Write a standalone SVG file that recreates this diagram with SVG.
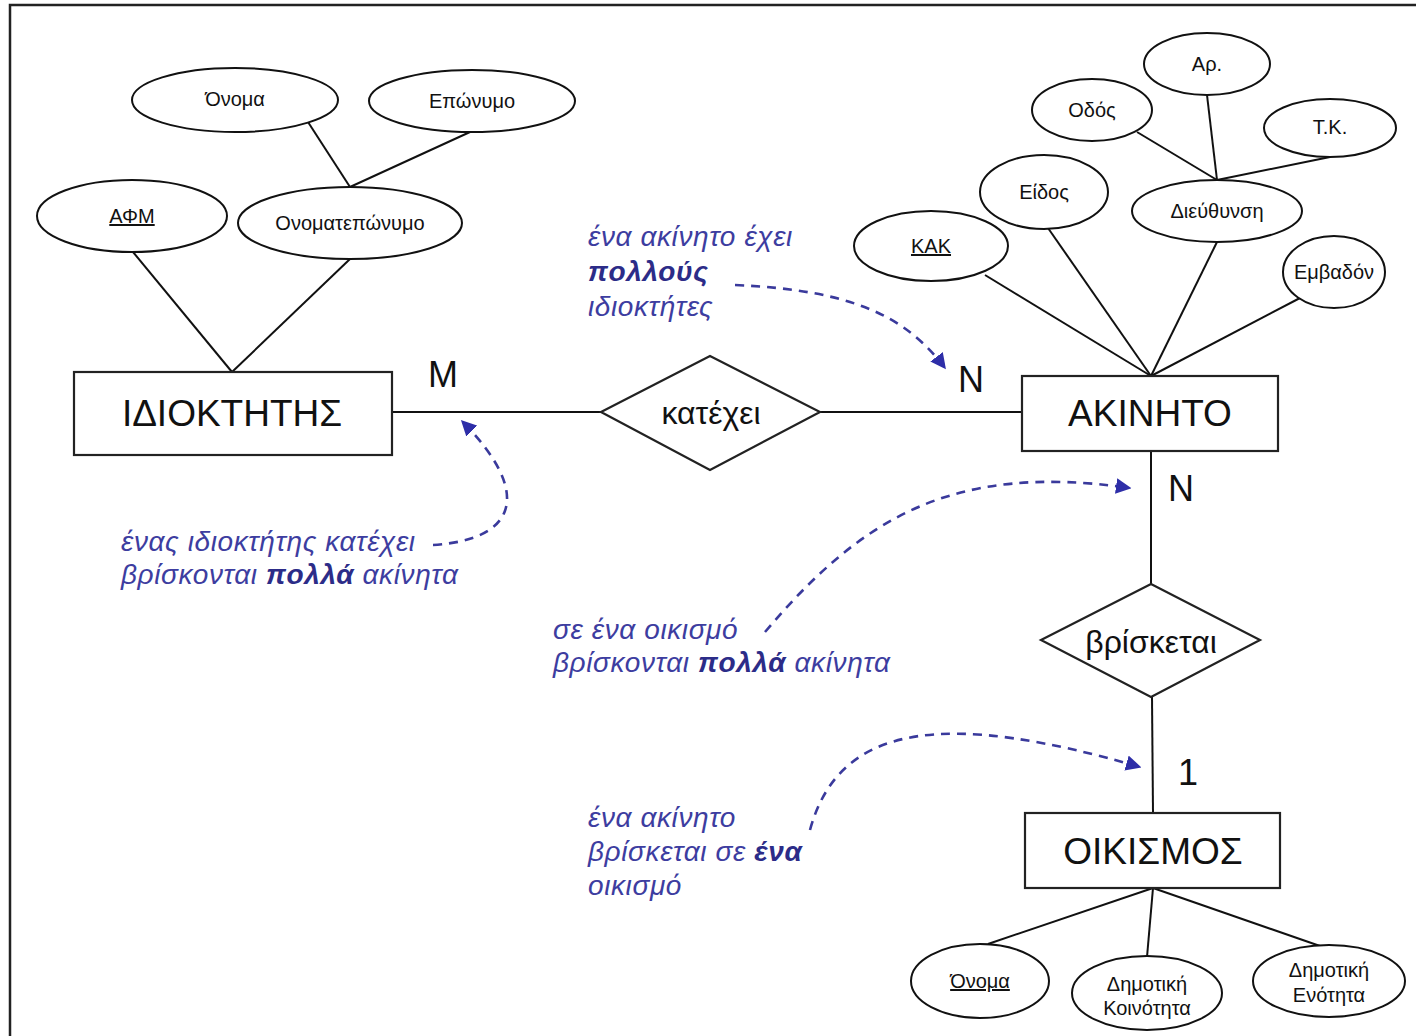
<svg xmlns="http://www.w3.org/2000/svg" width="1416" height="1036" viewBox="0 0 1416 1036">
<style>
.ent{fill:#fff;stroke:#222;stroke-width:2.2}
.attr{fill:#fff;stroke:#111;stroke-width:2}
.ln{stroke:#111;stroke-width:2;fill:none}
.et{font-family:"Liberation Sans",Arial,sans-serif;font-size:37px;fill:#111;text-anchor:middle}
.rt{font-family:"Liberation Sans",Arial,sans-serif;font-size:32px;fill:#111;text-anchor:middle}
.at{font-family:"Liberation Sans",Arial,sans-serif;font-size:20px;fill:#111;text-anchor:middle}
.u{text-decoration:underline}
.card{font-family:"Liberation Sans",Arial,sans-serif;font-size:36px;fill:#111}
.note{font-family:"Liberation Sans",Arial,sans-serif;font-size:28px;letter-spacing:0.6px;font-style:italic;fill:#3d3da0}
.b{font-weight:bold;fill:#2c2c88}
.dash{stroke:#3a3a9c;stroke-width:2.6;fill:none;stroke-dasharray:9 7}
</style>
<defs>
<marker id="ah" viewBox="0 0 10 10" refX="9" refY="5" markerWidth="6" markerHeight="6" markerUnits="strokeWidth" orient="auto">
<path d="M0,0 L10,5 L0,10 Z" fill="#2e2ea8"/>
</marker>
</defs>
<rect x="0" y="0" width="1416" height="1036" fill="#fff"/>
<path d="M10,1036 L10,5 L1416,5" fill="none" stroke="#222" stroke-width="2.5"/>

<g id="connectors">
<line class="ln" x1="392" y1="412" x2="601" y2="412"/>
<line class="ln" x1="820" y1="412" x2="1022" y2="412"/>
<line class="ln" x1="1151" y1="451" x2="1151" y2="584"/>
<line class="ln" x1="1152" y1="697" x2="1153" y2="813"/>
<line class="ln" x1="308" y1="122" x2="350" y2="187"/>
<line class="ln" x1="470" y1="132" x2="350" y2="187"/>
<line class="ln" x1="133" y1="252" x2="232" y2="372"/>
<line class="ln" x1="350" y1="259" x2="232" y2="372"/>
<line class="ln" x1="1137" y1="132" x2="1217" y2="180"/>
<line class="ln" x1="1207" y1="95" x2="1217" y2="180"/>
<line class="ln" x1="1330" y1="157" x2="1217" y2="180"/>
<line class="ln" x1="985" y1="275" x2="1151" y2="376"/>
<line class="ln" x1="1048" y1="228" x2="1151" y2="376"/>
<line class="ln" x1="1217" y1="242" x2="1151" y2="376"/>
<line class="ln" x1="1300" y1="298" x2="1151" y2="376"/>
<line class="ln" x1="1153" y1="888" x2="988" y2="944"/>
<line class="ln" x1="1153" y1="888" x2="1147" y2="957"/>
<line class="ln" x1="1153" y1="888" x2="1320" y2="946"/>
<path class="dash" d="M735,285 C850,290 905,315 945,368" marker-end="url(#ah)"/>
<path class="dash" d="M433,545 C515,540 535,495 462,421" marker-end="url(#ah)"/>
<path class="dash" d="M765,632 C860,520 950,462 1130,488" marker-end="url(#ah)"/>
<path class="dash" d="M810,830 C840,720 950,712 1140,767" marker-end="url(#ah)"/>
</g>

<g id="idioktitis"><rect class="ent" x="74" y="372" width="318" height="83"/><text class="et" x="232" y="426">ΙΔΙΟΚΤΗΤΗΣ</text></g>
<g id="akinito"><rect class="ent" x="1022" y="376" width="256" height="75"/><text class="et" x="1150" y="426">ΑΚΙΝΗΤΟ</text></g>
<g id="oikismos"><rect class="ent" x="1025" y="813" width="255" height="75"/><text class="et" x="1153" y="864">ΟΙΚΙΣΜΟΣ</text></g>

<g id="katexei"><polygon class="ent" points="601,412 710,356 820,412 710,470"/><text class="rt" x="711" y="424">κατέχει</text></g>
<g id="vrisketai"><polygon class="ent" points="1041,640 1151,584 1260,640 1151,697"/><text class="rt" x="1151" y="653">βρίσκεται</text></g>

<g id="onoma1"><ellipse class="attr" cx="235" cy="100" rx="103" ry="32"/><text class="at" x="235" y="106">Όνομα</text></g>
<g id="eponymo"><ellipse class="attr" cx="472" cy="101" rx="103" ry="31"/><text class="at" x="472" y="108">Επώνυμο</text></g>
<g id="afm"><ellipse class="attr" cx="132" cy="216" rx="95" ry="36"/><text class="at u" x="132" y="223">ΑΦΜ</text></g>
<g id="onomateponymo"><ellipse class="attr" cx="350" cy="223" rx="112" ry="36"/><text class="at" x="350" y="230">Ονοματεπώνυμο</text></g>

<g id="ar"><ellipse class="attr" cx="1207" cy="64" rx="63" ry="31"/><text class="at" x="1207" y="71">Αρ.</text></g>
<g id="odos"><ellipse class="attr" cx="1092" cy="110" rx="60" ry="31"/><text class="at" x="1092" y="117">Οδός</text></g>
<g id="tk"><ellipse class="attr" cx="1330" cy="128" rx="66" ry="29"/><text class="at" x="1330" y="134">Τ.Κ.</text></g>
<g id="eidos"><ellipse class="attr" cx="1044" cy="192" rx="64" ry="37"/><text class="at" x="1044" y="199">Είδος</text></g>
<g id="dieythynsi"><ellipse class="attr" cx="1217" cy="211" rx="85" ry="31"/><text class="at" x="1217" y="218">Διεύθυνση</text></g>
<g id="kak"><ellipse class="attr" cx="931" cy="246" rx="77" ry="35"/><text class="at u" x="931" y="253">ΚΑΚ</text></g>
<g id="emvadon"><ellipse class="attr" cx="1334" cy="272" rx="51" ry="36"/><text class="at" x="1334" y="279">Εμβαδόν</text></g>

<g id="onoma2"><ellipse class="attr" cx="980" cy="981" rx="69" ry="37"/><text class="at u" x="980" y="988">Όνομα</text></g>
<g id="dimkoinotita"><ellipse class="attr" cx="1147" cy="993" rx="75" ry="37"/><text class="at" x="1147" y="991">Δημοτική</text><text class="at" x="1147" y="1015">Κοινότητα</text></g>
<g id="dimenotita"><ellipse class="attr" cx="1329" cy="981" rx="76" ry="36"/><text class="at" x="1329" y="977">Δημοτική</text><text class="at" x="1329" y="1002">Ενότητα</text></g>

<g id="cardinalities">
<text class="card" x="428" y="387">M</text>
<text class="card" x="958" y="392">N</text>
<text class="card" x="1168" y="501">N</text>
<text class="card" x="1178" y="785">1</text>
</g>

<g id="notes">
<text class="note" x="588" y="246">ένα ακίνητο έχει</text>
<text class="note b" x="588" y="281">πολλούς</text>
<text class="note" x="588" y="316">ιδιοκτήτες</text>
<text class="note" x="121" y="551">ένας ιδιοκτήτης κατέχει</text>
<text class="note" x="121" y="584">βρίσκονται <tspan class="b">πολλά</tspan> ακίνητα</text>
<text class="note" x="553" y="639">σε ένα οικισμό</text>
<text class="note" x="553" y="672">βρίσκονται <tspan class="b">πολλά</tspan> ακίνητα</text>
<text class="note" x="588" y="827">ένα ακίνητο</text>
<text class="note" x="588" y="861">βρίσκεται σε <tspan class="b">ένα</tspan></text>
<text class="note" x="588" y="895">οικισμό</text>
</g>
</svg>
